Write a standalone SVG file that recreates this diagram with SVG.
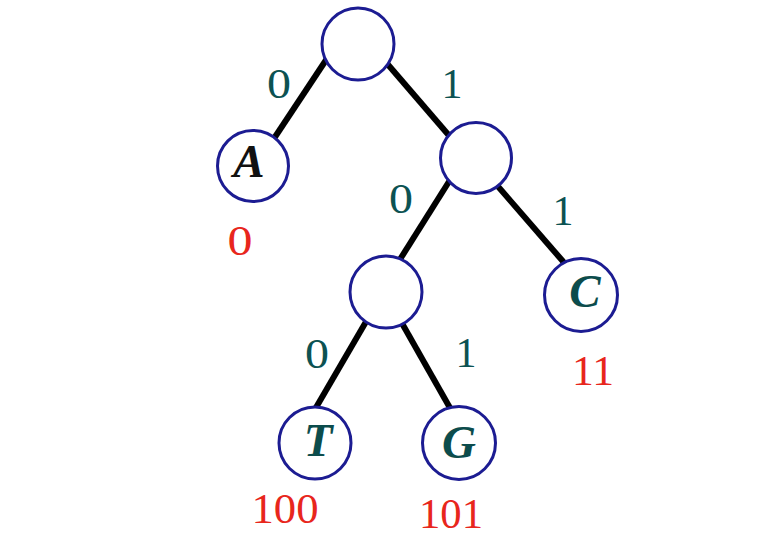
<svg xmlns="http://www.w3.org/2000/svg" width="767" height="544" viewBox="0 0 767 544">
<style>
.edge{stroke:#000;stroke-width:6;stroke-linecap:butt}
.node{fill:#fff;stroke:#1c1c92;stroke-width:3}
.sym{font-family:"Liberation Serif",serif;font-weight:bold;font-style:italic;font-size:47px;text-anchor:middle}
.bit{font-family:"Liberation Serif",serif;font-size:42px;fill:#0c5252;text-anchor:middle}
.code{font-family:"Liberation Serif",serif;font-size:42px;fill:#e8261c;text-anchor:middle}
</style>
<rect width="767" height="544" fill="#fff"/>
<g id="connectors">
<line class="edge" x1="330" y1="54" x2="271" y2="143"/>
<line class="edge" x1="384" y1="60" x2="452" y2="139"/>
<line class="edge" x1="450" y1="180" x2="399" y2="261"/>
<line class="edge" x1="495" y1="183" x2="567" y2="266"/>
<line class="edge" x1="367" y1="320" x2="314" y2="411"/>
<line class="edge" x1="399" y1="318" x2="454" y2="415"/>
</g>
<g id="root"><circle class="node" cx="358" cy="44" r="36"/></g>
<g id="nodeA"><circle class="node" cx="253" cy="166" r="35.5"/><text class="sym" x="249" y="177" fill="#111">A</text></g>
<g id="n1"><circle class="node" cx="476" cy="158" r="35.5"/></g>
<g id="n10"><circle class="node" cx="386" cy="292" r="36"/></g>
<g id="nodeC"><circle class="node" cx="581" cy="295" r="36.5"/><text class="sym" x="585" y="307" fill="#0c4c4c">C</text></g>
<g id="nodeT"><circle class="node" cx="315" cy="443" r="36"/><text class="sym" x="318" y="456" fill="#0c4c4c">T</text></g>
<g id="nodeG"><circle class="node" cx="459" cy="443" r="36.5"/><text class="sym" x="459" y="458" fill="#0c4c4c">G</text></g>
<g id="labels">
<text class="bit" x="279" y="98" textLength="24" lengthAdjust="spacingAndGlyphs">0</text>
<text class="bit" x="452" y="98">1</text>
<text class="bit" x="401" y="213" textLength="24" lengthAdjust="spacingAndGlyphs">0</text>
<text class="bit" x="563" y="225">1</text>
<text class="bit" x="317" y="368" textLength="24" lengthAdjust="spacingAndGlyphs">0</text>
<text class="bit" x="466" y="367">1</text>
<text class="code" x="240" y="255" textLength="25" lengthAdjust="spacingAndGlyphs">0</text>
<text class="code" x="593" y="385" textLength="42" lengthAdjust="spacingAndGlyphs">11</text>
<text class="code" x="285" y="523" textLength="67" lengthAdjust="spacingAndGlyphs">100</text>
<text class="code" x="451" y="528" textLength="64" lengthAdjust="spacingAndGlyphs">101</text>
</g>
</svg>
